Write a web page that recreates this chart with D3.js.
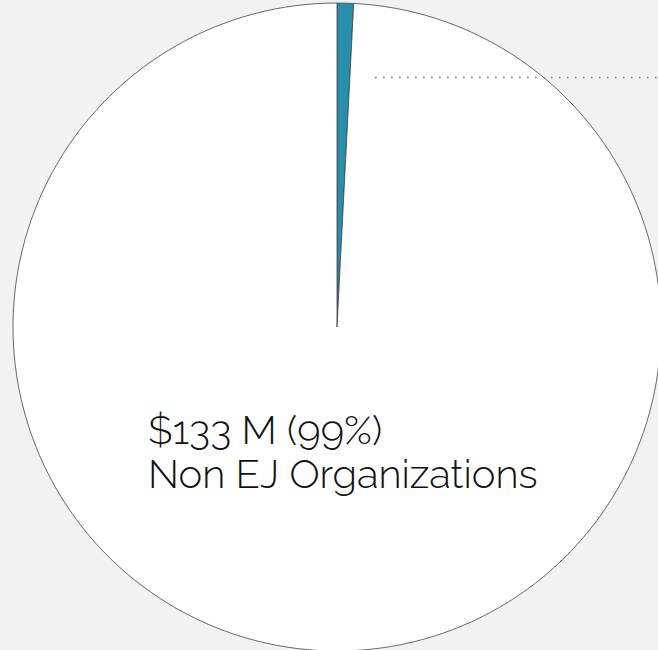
<!DOCTYPE html>
<html>
<head>
<meta charset="utf-8">
<script src="https://cdn.jsdelivr.net/npm/d3@7"></script>
<style>
  html, body { margin: 0; padding: 0; background: #f2f2f2; }
  svg { display: block; }
  .slice-label { font-family: Raleway, Lato, "Open Sans", sans-serif; font-weight: 300; fill: #111; }
</style>
</head>
<body>
<div id="pie"></div>
<script>
const width = 658;
const height = 650;

// Funding split, in $ millions
const categories = ['EJ Organizations', 'Non EJ Organizations'];
const amounts = [1.1, 133];
const percentLabels = ['1%', '99%'];
const colors = ['#278fac', '#ffffff'];

const cx = 337;
const cy = 327;
const radius = 324;

const svg = d3.select('#pie')
    .append('svg')
    .attr('width', width)
    .attr('height', height)
    .attr('viewBox', `0 0 ${width} ${height}`);

const innerChart = svg
    .append('g')
    .attr('transform', `translate(${cx},${cy})`);

const pieGenerator = d3.pie()
    .sort(null)
    .value(d => d);

const arcs = pieGenerator(amounts);

const arcGenerator = d3.arc()
    .innerRadius(0)
    .outerRadius(radius);

const colorScale = d3.scaleOrdinal()
    .domain(categories)
    .range(colors);

innerChart
    .selectAll('path')
    .data(arcs)
    .join('path')
        .attr('d', arcGenerator)
        .attr('fill', (d, i) => colorScale(categories[i]))
        .attr('stroke', '#444')
        .attr('stroke-width', 0.8);

// leader line for the small slice (its label sits outside the view)
const leaderY = 77.5 - cy;
innerChart
    .append('line')
    .attr('x1', 38)
    .attr('y1', leaderY)
    .attr('x2', width - cx + 10)
    .attr('y2', leaderY)
    .attr('stroke', '#777')
    .attr('stroke-width', 1.6)
    .attr('stroke-dasharray', '1.6 6.4');

// label of the big slice
const big = arcs[1];
const labelG = svg.append('g')
    .attr('class', 'slice-label')
    .attr('transform', 'translate(148, 0)');

labelG.append('text')
    .attr('x', 0)
    .attr('y', 444)
    .attr('font-size', 40)
    .text(`$${Math.round(big.value)} M (${percentLabels[1]})`);

labelG.append('text')
    .attr('x', 0)
    .attr('y', 488)
    .attr('font-size', 40)
    .text(categories[1]);
</script>
</body>
</html>
